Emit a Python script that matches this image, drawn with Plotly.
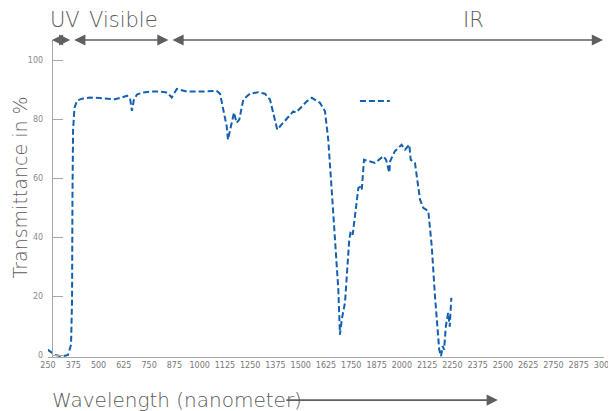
"""Transmittance spectrum of an optical filter, UV to IR."""

import plotly.graph_objects as go


wavelength_nm = [
    248, 285, 319, 349, 364, 369, 371, 374, 381, 393, 418, 458, 507, 542,
    581, 616, 641, 656, 665, 675, 690, 720, 754, 804, 839, 862, 887, 936,
    1017, 1084, 1101, 1116, 1134, 1140, 1159, 1170, 1183, 1196, 1216, 1249,
    1289, 1323, 1348, 1363, 1384, 1414, 1463, 1477, 1530, 1555, 1595, 1620,
    1636, 1653, 1670, 1686, 1694, 1703, 1719, 1727, 1740, 1747, 1757, 1768,
    1785, 1797, 1802, 1813, 1867, 1908, 1922, 1938, 1942, 1966, 1999, 2016,
    2037, 2044, 2065, 2090, 2106, 2131, 2148, 2164, 2176, 2185, 2194, 2202,
    2209, 2218, 2229, 2237, 2245,
]
transmittance_pct = [
    2.0, 0.2, -0.3, 0.2, 3.7, 19.0, 53.0, 76.6, 84.0, 86.4, 87.1, 87.5, 87.3,
    87.1, 86.9, 87.5, 88.1, 87.1, 83.0, 86.8, 88.5, 89.2, 89.5, 89.5, 89.2,
    87.5, 90.4, 89.5, 89.5, 89.8, 88.8, 83.7, 77.7, 73.2, 78.9, 82.4, 78.9,
    80.0, 86.8, 88.8, 89.3, 88.8, 86.8, 82.4, 76.6, 79.0, 82.8, 82.4, 86.2,
    87.4, 85.7, 82.8, 73.3, 56.3, 39.3, 22.4, 7.1, 12.2, 18.0, 26.9, 39.3,
    42.1, 41.0, 47.2, 56.8, 57.4, 56.3, 66.4, 65.3, 67.6, 66.4, 62.0, 65.9,
    69.3, 71.5, 69.8, 71.5, 66.4, 65.3, 52.9, 50.1, 49.0, 37.1, 20.1, 8.8,
    2.0, -0.2, 3.2, 2.0, 10.0, 14.5, 9.8, 19.6,
]

x_tick_values = [
    250, 375, 500, 625, 750, 875, 1000, 1125, 1250, 1375, 1500, 1625, 1750,
    1875, 2000, 2125, 2250, 2375, 2500, 2625, 2750, 2875, 3000,
]
y_tick_values = [0, 20, 40, 60, 80, 100]

region_names = ["UV", "Visible", "IR"]
region_starts_nm = [262, 372, 858]
region_ends_nm = [360, 846, 2995]

TEXT_FONT = "DejaVu Sans"
TEXT_COLOR = "#5a5a5a"
AXIS_COLOR = "#a8a8a8"

spectrum_figure = go.Figure()

spectrum_figure.add_trace(
    go.Scatter(
        x=wavelength_nm,
        y=transmittance_pct,
        mode="lines",
        name="",
        line={"color": "#1360b0", "width": 2, "dash": "6px,3px"},
        showlegend=True,
    )
)

annotations = []
for name, start_nm, end_nm in zip(region_names, region_starts_nm, region_ends_nm):
    annotations.append(
        {
            "x": end_nm,
            "y": 1.0,
            "xref": "x",
            "yref": "paper",
            "ax": start_nm,
            "ay": 0,
            "axref": "x",
            "ayref": "pixel",
            "text": "",
            "showarrow": True,
            "arrowside": "end+start",
            "arrowhead": 2,
            "arrowsize": 1.4,
            "arrowwidth": 1.6,
            "arrowcolor": "#5f5f5f",
        }
    )

label_positions = [0.0, 0.07, 0.743]
for name, x_paper in zip(region_names, label_positions):
    annotations.append(
        {
            "x": x_paper,
            "y": 1.062,
            "xref": "paper",
            "yref": "paper",
            "xanchor": "left",
            "yanchor": "middle",
            "text": name,
            "showarrow": False,
            "font": {"family": TEXT_FONT, "size": 21, "color": TEXT_COLOR,
                     "weight": 300},
        }
    )

# axis titles are placed as annotations so the margins stay fixed
annotations.append(
    {
        "x": -0.05,
        "y": 0.535,
        "xref": "paper",
        "yref": "paper",
        "xanchor": "center",
        "yanchor": "middle",
        "textangle": -90,
        "text": "Transmittance in %",
        "showarrow": False,
        "font": {"family": TEXT_FONT, "size": 19, "color": TEXT_COLOR,
                 "weight": 300},
    }
)
annotations.append(
    {
        "x": 0.004,
        "y": -0.136,
        "xref": "paper",
        "yref": "paper",
        "xanchor": "left",
        "yanchor": "middle",
        "text": "Wavelength (nanometer)",
        "showarrow": False,
        "font": {"family": TEXT_FONT, "size": 20, "color": TEXT_COLOR,
                 "weight": 300},
    }
)
annotations.append(
    {
        "x": 0.809,
        "y": -0.136,
        "xref": "paper",
        "yref": "paper",
        "ax": -213,
        "ay": 0,
        "text": "",
        "showarrow": True,
        "arrowhead": 2,
        "arrowsize": 1.4,
        "arrowwidth": 1.6,
        "arrowcolor": "#5f5f5f",
    }
)

# the page body adds an 8px offset, so the figure is 8px smaller
spectrum_figure.update_layout(
    width=608,
    height=403,
    margin={"l": 40, "r": 12, "t": 32, "b": 54},
    paper_bgcolor="white",
    plot_bgcolor="white",
    annotations=annotations,
    legend={
        "x": 0.552,
        "y": 0.853,
        "xanchor": "left",
        "yanchor": "top",
        "bgcolor": "rgba(0,0,0,0)",
        "font": {"size": 10},
    },
    xaxis={
        "range": [250, 3000],
        "tickvals": x_tick_values,
        "ticks": "",
        "showgrid": False,
        "zeroline": False,
        "showline": True,
        "linecolor": AXIS_COLOR,
        "linewidth": 1,
        "automargin": False,
        "tickfont": {"family": TEXT_FONT, "size": 8, "color": "#777777"},
    },
    yaxis={
        "range": [-0.5, 107],
        "tickvals": y_tick_values,
        "ticks": "inside",
        "ticklen": 10,
        "tickcolor": AXIS_COLOR,
        "showgrid": False,
        "zeroline": False,
        "showline": True,
        "linecolor": AXIS_COLOR,
        "linewidth": 1,
        "anchor": "free",
        "position": 0.0067,
        "automargin": False,
        "ticklabelstandoff": 7,
        "tickfont": {"family": TEXT_FONT, "size": 8, "color": "#8a8a8a"},
    },
)

spectrum_figure.write_html("out.html")
